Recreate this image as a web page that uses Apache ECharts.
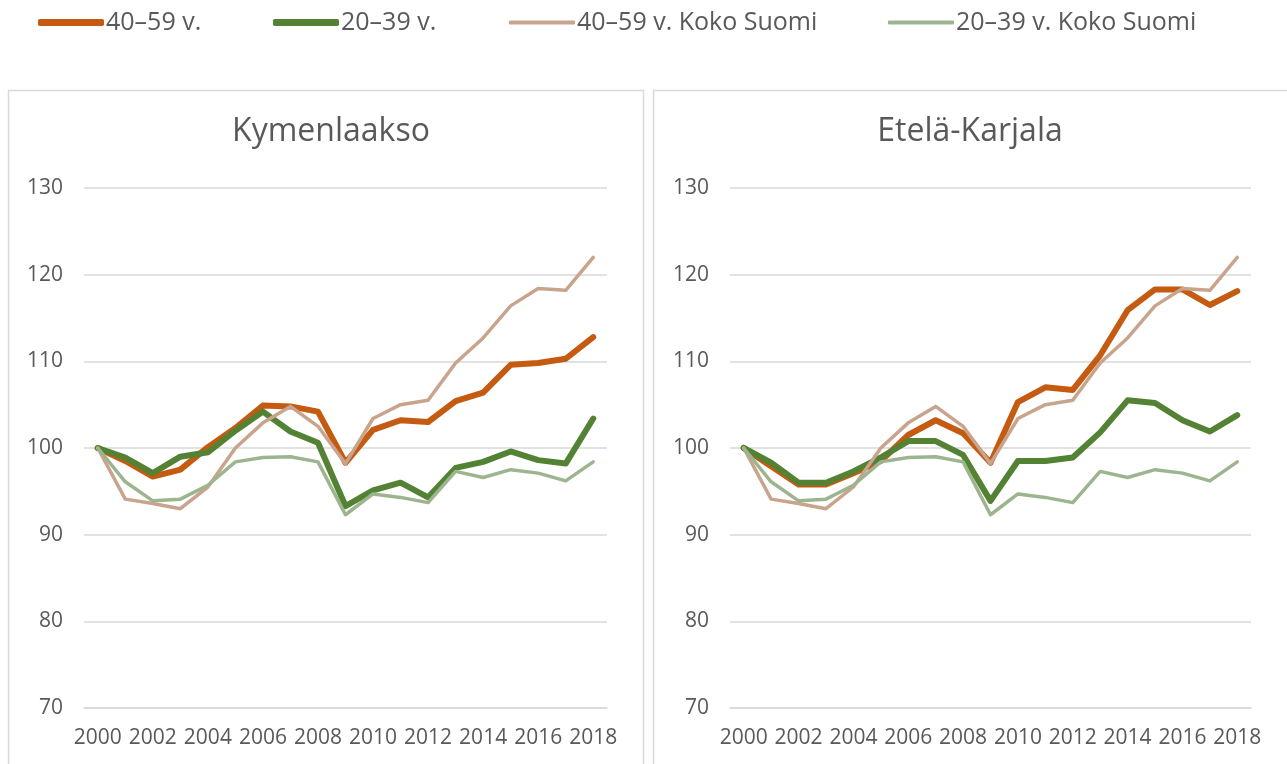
<!DOCTYPE html>
<html>
<head>
<meta charset="utf-8">
<script src="https://cdn.jsdelivr.net/npm/echarts@6/dist/echarts.min.js"></script>
<style>
  html, body { margin: 0; padding: 0; background: #fff; }
  #chart { width: 1287px; height: 764px; }
</style>
</head>
<body>
<div id="chart"></div>
<script>
// Years on the x axis
const years = ['2000', '2001', '2002', '2003', '2004', '2005', '2006', '2007', '2008', '2009',
  '2010', '2011', '2012', '2013', '2014', '2015', '2016', '2017', '2018'];

// Kymenlaakso
const kymi4059 = [100, 98.5, 96.7, 97.5, 100.1, 102.3, 104.9, 104.8, 104.2, 98.3,
  102.1, 103.2, 103.0, 105.4, 106.4, 109.6, 109.8, 110.3, 112.8];
const kymi2039 = [100, 98.9, 97.1, 99.0, 99.5, 102.0, 104.2, 101.9, 100.6, 93.3,
  95.1, 96.0, 94.3, 97.7, 98.4, 99.6, 98.6, 98.2, 103.4];

// Etelä-Karjala
const ekarj4059 = [100, 97.9, 95.8, 95.8, 97.1, 98.5, 101.5, 103.2, 101.7, 98.3,
  105.3, 107.0, 106.7, 110.7, 115.9, 118.3, 118.3, 116.5, 118.1];
const ekarj2039 = [100, 98.3, 96.0, 96.0, 97.3, 98.9, 100.8, 100.8, 99.2, 93.9,
  98.5, 98.5, 98.9, 101.8, 105.5, 105.2, 103.2, 101.9, 103.8];

// Koko Suomi (same in both panels)
const suomi4059 = [100, 94.1, 93.6, 93.0, 95.5, 100.0, 102.9, 104.8, 102.5, 98.2,
  103.4, 105.0, 105.5, 109.8, 112.7, 116.4, 118.4, 118.2, 122.0];
const suomi2039 = [100, 96.1, 93.9, 94.1, 95.7, 98.4, 98.9, 99.0, 98.4, 92.3,
  94.7, 94.3, 93.7, 97.3, 96.6, 97.5, 97.1, 96.2, 98.4];

const names = ['40–59 v.', '20–39 v.', '40–59 v. Koko Suomi', '20–39 v. Koko Suomi'];
const colors = ['#C55A11', '#548235', '#C9A48D', '#9DB58F'];
const widths = [6, 6, 3.5, 3.5];
const titles = ['Kymenlaakso', 'Etelä-Karjala'];

const FONT = "'Open Sans', sans-serif";
const TEXT = '#595959';
const GRIDLINE = '#d9d9d9';

const panels = [
  { left: 84, width: 523, titleX: 326, data: [kymi4059, kymi2039, suomi4059, suomi2039] },
  { left: 730, width: 521, titleX: 965, data: [ekarj4059, ekarj2039, suomi4059, suomi2039] }
];

const chart = echarts.init(document.getElementById('chart'));

const grid = panels.map(p => ({ left: p.left, width: p.width, top: 188, height: 520 }));

const xAxis = panels.map((p, i) => ({
  type: 'category',
  gridIndex: i,
  data: years,
  boundaryGap: true,
  axisLine: { show: true, lineStyle: { color: GRIDLINE, width: 1.5 } },
  axisTick: { show: false },
  axisLabel: { interval: 1, margin: 20, color: TEXT, fontSize: 21, fontFamily: FONT }
}));

const yAxis = panels.map((p, i) => ({
  type: 'value',
  gridIndex: i,
  min: 70,
  max: 130,
  interval: 10,
  axisLine: { show: false },
  axisTick: { show: false },
  axisLabel: { margin: 21, color: TEXT, fontSize: 21, fontFamily: FONT },
  splitLine: { lineStyle: { color: GRIDLINE, width: 1.5 } }
}));

const series = [];
panels.forEach((p, i) => {
  p.data.forEach((values, k) => {
    series.push({
      name: names[k],
      type: 'line',
      xAxisIndex: i,
      yAxisIndex: i,
      data: values,
      symbol: 'none',
      smooth: false,
      color: colors[k],
      lineStyle: { width: widths[k], color: colors[k], cap: 'round', join: 'round' },
      emphasis: { disabled: true }
    });
  });
});

// one legend per item so each sits where the reference puts it
const legendX = [38, 273, 509, 888];
const legend = names.map((n, k) => ({
  left: legendX[k],
  top: 10,
  padding: 0,
  data: [{ name: n, icon: 'roundRect' }],
  itemWidth: 66,
  itemHeight: k < 2 ? 7 : 4,
  itemGap: 0,
  textStyle: { color: TEXT, fontSize: 25, fontFamily: FONT, padding: [0, 0, 0, -3] }
}));

const title = panels.map((p, i) => ({
  text: titles[i],
  left: p.titleX,
  top: 111,
  textAlign: 'center',
  textStyle: { color: TEXT, fontSize: 32, fontWeight: 'normal', fontFamily: FONT }
}));

chart.setOption({
  animation: false,
  backgroundColor: '#fff',
  title: title,
  legend: legend,
  grid: grid,
  xAxis: xAxis,
  yAxis: yAxis,
  series: series,
  graphic: [
    { type: 'rect', shape: { x: 8.5, y: 90.5, width: 635, height: 700 }, style: { fill: 'none', stroke: GRIDLINE, lineWidth: 1.5 }, silent: true },
    { type: 'rect', shape: { x: 653.5, y: 90.5, width: 650, height: 700 }, style: { fill: 'none', stroke: GRIDLINE, lineWidth: 1.5 }, silent: true }
  ]
});
</script>
</body>
</html>
